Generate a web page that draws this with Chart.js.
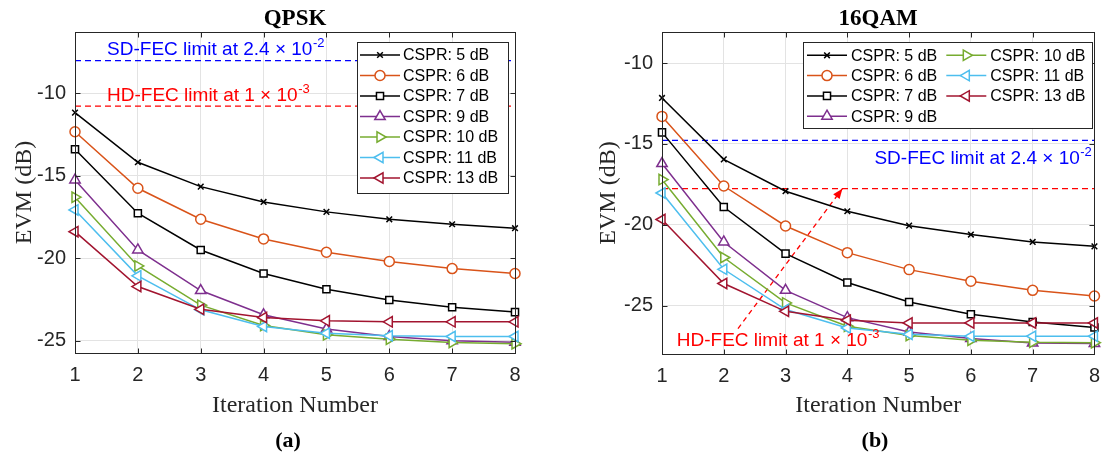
<!DOCTYPE html>
<html>
<head>
<meta charset="utf-8">
<script src="https://cdn.jsdelivr.net/npm/chart.js@4.4.1/dist/chart.umd.min.js"></script>
<style>
  body { margin: 0; background: #fff; }
  .panel { position: absolute; top: 0; width: 555px; height: 460px; }
</style>
</head>
<body>
<div class="panel" style="left:0"><canvas id="qpskChart" width="555" height="460"></canvas></div>
<div class="panel" style="left:555px"><canvas id="qamChart" width="555" height="460"></canvas></div>
<script>
// x axis: iteration number
const iterations = [1, 2, 3, 4, 5, 6, 7, 8];
const xTicks = [1, 2, 3, 4, 5, 6, 7, 8];
const yTicks = [-10, -15, -20, -25];

const csprLabels = ['CSPR: 5 dB', 'CSPR: 6 dB', 'CSPR: 7 dB', 'CSPR: 9 dB', 'CSPR: 10 dB', 'CSPR: 11 dB', 'CSPR: 13 dB'];

// QPSK EVM (dB)
const qpsk5  = [-11.17, -14.18, -15.66, -16.59, -17.19, -17.64, -17.94, -18.18];
const qpsk6  = [-12.33, -15.76, -17.64, -18.83, -19.64, -20.20, -20.63, -20.93];
const qpsk7  = [-13.39, -17.27, -19.50, -20.93, -21.88, -22.53, -22.97, -23.27];
const qpsk9  = [-15.25, -19.50, -21.96, -23.43, -24.30, -24.75, -25.00, -25.10];
const qpsk10 = [-16.30, -20.47, -22.85, -24.08, -24.65, -24.91, -25.11, -25.19];
const qpsk11 = [-17.07, -21.07, -23.13, -24.14, -24.55, -24.71, -24.75, -24.75];
const qpsk13 = [-18.39, -21.72, -23.10, -23.60, -23.80, -23.86, -23.86, -23.86];

// 16QAM EVM (dB)
const qam5  = [-12.16, -15.96, -17.93, -19.17, -20.06, -20.61, -21.07, -21.34];
const qam6  = [-13.30, -17.61, -20.08, -21.73, -22.78, -23.50, -24.06, -24.41];
const qam7  = [-14.29, -18.91, -21.79, -23.58, -24.78, -25.54, -26.02, -26.36];
const qam9  = [-16.22, -21.07, -24.06, -25.75, -26.64, -27.04, -27.32, -27.35];
const qam10 = [-17.21, -22.03, -24.84, -26.28, -26.86, -27.15, -27.27, -27.30];
const qam11 = [-18.04, -22.76, -25.25, -26.39, -26.78, -26.90, -26.90, -26.90];
const qam13 = [-19.68, -23.64, -25.36, -25.91, -26.08, -26.08, -26.08, -26.08];

// FEC thresholds (EVM in dB)
const qpskSdFec = -8.02;
const qpskHdFec = -10.77;
const qamSdFec = -14.78;
const qamHdFec = -17.77;

// dashed arrow pointing to the 16QAM HD-FEC line
const qamArrowX = [2.23, 3.92];
const qamArrowY = [-26.43, -17.77];

const SANS = '"Liberation Sans", Arial, sans-serif';
const SERIF = '"Liberation Serif", "Times New Roman", serif';

const csprColors = ['#000000', '#D95319', '#000000', '#7E2F8E', '#77AC30', '#4DBEEE', '#A2142F'];
const csprMarkers = [
    { style: 'crossRot', rot: 0, r: 4 },
    { style: 'circle', rot: 0, r: 5 },
    { style: 'rect', rot: 0, r: 5 },
    { style: 'triangle', rot: 0, r: 6 },
    { style: 'triangle', rot: 90, r: 6 },
    { style: 'triangle', rot: -90, r: 6 },
    { style: 'triangle', rot: -90, r: 6 },
];

function csprDatasets(series) {
    return series.map((values, i) => ({
        label: csprLabels[i],
        data: iterations.map((it, k) => ({ x: it, y: values[k] })),
        borderColor: csprColors[i],
        backgroundColor: '#ffffff',
        borderWidth: 1.5,
        pointStyle: csprMarkers[i].style,
        rotation: csprMarkers[i].rot,
        pointRadius: csprMarkers[i].r,
        pointBorderWidth: 1.5,
        clip: false,
        inLegend: true,
        order: 20 - i,
    }));
}

function limitLine(value, color) {
    return {
        data: [{ x: xTicks[0], y: value }, { x: xTicks[xTicks.length - 1], y: value }],
        borderColor: color,
        borderWidth: 1.3,
        borderDash: [6, 4],
        pointRadius: 0,
        order: 40,
    };
}

// MATLAB style box with inward ticks
const frame = {
    id: 'frame',
    afterDatasetsDraw(chart) {
        const { ctx, chartArea: a, scales } = chart;
        const L = Math.round(a.left) + 0.5, R = Math.round(a.right) + 0.5;
        const T = Math.round(a.top) + 0.5, B = Math.round(a.bottom) + 0.5;
        ctx.save();
        ctx.strokeStyle = '#262626';
        ctx.lineWidth = 1;
        ctx.strokeRect(L, T, R - L, B - T);
        ctx.beginPath();
        scales.x.ticks.forEach(t => {
            const px = Math.round(scales.x.getPixelForValue(t.value)) + 0.5;
            ctx.moveTo(px, B); ctx.lineTo(px, B - 5);
            ctx.moveTo(px, T); ctx.lineTo(px, T + 5);
        });
        scales.y.ticks.forEach(t => {
            const py = Math.round(scales.y.getPixelForValue(t.value)) + 0.5;
            ctx.moveTo(L, py); ctx.lineTo(L + 5, py);
            ctx.moveTo(R, py); ctx.lineTo(R - 5, py);
        });
        ctx.stroke();
        ctx.restore();
    }
};

// arrow head on the dataset flagged with arrow: true
const arrowHead = {
    id: 'arrowHead',
    afterDatasetsDraw(chart) {
        const idx = chart.data.datasets.findIndex(d => d.arrow);
        if (idx < 0) return;
        const pts = chart.getDatasetMeta(idx).data;
        const p0 = pts[0], p1 = pts[pts.length - 1];
        const ang = Math.atan2(p1.y - p0.y, p1.x - p0.x);
        const ctx = chart.ctx;
        ctx.save();
        ctx.translate(p1.x, p1.y);
        ctx.rotate(ang);
        ctx.fillStyle = '#ff0000';
        ctx.beginPath();
        ctx.moveTo(0, 0);
        ctx.lineTo(-10, -4);
        ctx.lineTo(-10, 4);
        ctx.closePath();
        ctx.fill();
        ctx.restore();
    }
};

// FEC limit labels, e.g. "SD-FEC limit at 2.4 x 10^-2"
const fecText = {
    id: 'fecText',
    afterDatasetsDraw(chart, args, opts) {
        const ctx = chart.ctx;
        const { x: sx, y: sy } = chart.scales;
        ctx.save();
        ctx.textBaseline = 'alphabetic';
        ctx.textAlign = 'left';
        (opts.items || []).forEach(it => {
            const main = '19px ' + SANS, small = '13px ' + SANS;
            ctx.font = main;
            const head = it.text + ' \u00d7 10';
            const wHead = ctx.measureText(head).width;
            ctx.font = small;
            const wExp = ctx.measureText(it.exp).width;
            const px = sx.getPixelForValue(it.x);
            const py = sy.getPixelForValue(it.y);
            const x0 = it.align === 'right' ? px - wHead - wExp : px;
            ctx.fillStyle = it.color;
            ctx.font = main;
            ctx.fillText(head, x0, py);
            ctx.font = small;
            ctx.fillText(it.exp, x0 + wHead + 0.5, py - 8);
        });
        ctx.restore();
    }
};

// legend box drawn inside the axes
const csprLegend = {
    id: 'csprLegend',
    afterDraw(chart, args, o) {
        const ctx = chart.ctx;
        ctx.save();
        ctx.fillStyle = '#ffffff';
        ctx.fillRect(o.x, o.y, o.w, o.h);
        ctx.strokeStyle = '#262626';
        ctx.lineWidth = 1;
        ctx.strokeRect(Math.round(o.x) + 0.5, Math.round(o.y) + 0.5, Math.round(o.w), Math.round(o.h));
        ctx.font = '16px ' + SANS;
        ctx.textBaseline = 'middle';
        ctx.textAlign = 'left';
        chart.data.datasets.filter(d => d.inLegend).forEach((ds, i) => {
            const col = Math.floor(i / o.rows), row = i % o.rows;
            const lx = o.x + o.padX + col * o.colW;
            const cy = o.y + o.firstRow + row * o.rowH;
            ctx.strokeStyle = ds.borderColor;
            ctx.lineWidth = ds.borderWidth;
            ctx.beginPath();
            ctx.moveTo(lx, cy);
            ctx.lineTo(lx + o.lineLen, cy);
            ctx.stroke();
            ctx.fillStyle = '#ffffff';
            Chart.helpers.drawPoint(ctx, {
                pointStyle: ds.pointStyle, rotation: ds.rotation,
                radius: ds.pointRadius, borderWidth: ds.pointBorderWidth
            }, lx + o.lineLen / 2, cy);
            ctx.fillStyle = '#000000';
            ctx.fillText(ds.label, lx + o.lineLen + o.textGap, cy + 1);
        });
        ctx.restore();
    }
};

// title, axis titles and panel caption
const panelText = {
    id: 'panelText',
    afterDraw(chart, args, o) {
        const { ctx, chartArea: a } = chart;
        const cx = (a.left + a.right) / 2;
        ctx.save();
        ctx.fillStyle = '#000000';
        ctx.textAlign = 'center';
        ctx.textBaseline = 'alphabetic';
        ctx.font = 'bold 23px ' + SERIF;
        ctx.fillText(o.title, cx, 25);
        ctx.font = '24px ' + SERIF;
        ctx.fillStyle = '#262626';
        ctx.fillText('Iteration Number', cx, 411.5);
        ctx.save();
        ctx.translate(o.yTitleX, (a.top + a.bottom) / 2);
        ctx.rotate(-Math.PI / 2);
        ctx.fillText('EVM (dB)', 0, 0);
        ctx.restore();
        ctx.fillStyle = '#000000';
        ctx.font = 'bold 22px ' + SERIF;
        ctx.fillText(o.caption, o.captionX, 447);
        ctx.restore();
    }
};

function makeChart(id, datasets, yMin, yMax, axisWidth, axisHeight, padRight, plugins) {
    const ctx = document.getElementById(id).getContext('2d');
    return new Chart(ctx, {
        type: 'line',
        data: { datasets: datasets },
        options: {
            responsive: false,
            animation: false,
            devicePixelRatio: 1,
            layout: { padding: { top: 32, right: padRight, bottom: 0, left: 0 } },
            plugins: Object.assign({
                legend: { display: false },
                title: { display: false },
                tooltip: { enabled: false },
            }, plugins),
            scales: {
                x: {
                    type: 'linear',
                    min: xTicks[0],
                    max: xTicks[xTicks.length - 1],
                    afterBuildTicks: axis => { axis.ticks = xTicks.map(v => ({ value: v })); },
                    afterFit: scale => { scale.height = axisHeight; },
                    grid: { color: '#e3e3e3', drawTicks: false },
                    border: { display: false },
                    ticks: { color: '#262626', font: { family: SANS, size: 20 }, padding: 10, maxRotation: 0, autoSkip: false },
                },
                y: {
                    type: 'linear',
                    min: yMin,
                    max: yMax,
                    afterBuildTicks: axis => { axis.ticks = yTicks.map(v => ({ value: v })); },
                    afterFit: scale => { scale.width = axisWidth; },
                    grid: { color: '#e3e3e3', drawTicks: false },
                    border: { display: false },
                    ticks: { color: '#262626', font: { family: SANS, size: 20 }, padding: 9 },
                },
            },
        },
        plugins: [frame, arrowHead, fecText, csprLegend, panelText],
    });
}

// (a) QPSK
const qpskSets = csprDatasets([qpsk5, qpsk6, qpsk7, qpsk9, qpsk10, qpsk11, qpsk13]);
qpskSets.push(limitLine(qpskSdFec, '#0000ff'), limitLine(qpskHdFec, '#ff0000'));
makeChart('qpskChart', qpskSets, -25.75, -6.28, 75, 107, 40, {
    panelText: { title: 'QPSK', caption: '(a)', captionX: 288, yTitleX: 31 },
    csprLegend: { x: 357, y: 42, w: 151, h: 151, rows: 7, colW: 0, padX: 3, firstRow: 13, rowH: 20.5, lineLen: 40, textGap: 3 },
    fecText: { items: [
        { x: 1.51, y: -7.68, text: 'SD-FEC limit at 2.4', exp: '-2', color: '#0000ff' },
        { x: 1.51, y: -10.45, text: 'HD-FEC limit at 1', exp: '-3', color: '#ff0000' },
    ] },
});

// (b) 16QAM
const qamSets = csprDatasets([qam5, qam6, qam7, qam9, qam10, qam11, qam13]);
qamSets.push(limitLine(qamSdFec, '#0000ff'), limitLine(qamHdFec, '#ff0000'));
qamSets.push({
    data: qamArrowX.map((x, k) => ({ x: x, y: qamArrowY[k] })),
    borderColor: '#ff0000',
    borderWidth: 1.3,
    borderDash: [5, 4],
    pointRadius: 0,
    arrow: true,
    order: 40,
});
makeChart('qamChart', qamSets, -28, -8.08, 107, 106, 7, {
    panelText: { title: '16QAM', caption: '(b)', captionX: 320, yTitleX: 60 },
    csprLegend: { x: 248, y: 42, w: 289, h: 86, rows: 4, colW: 139.3, padX: 4, firstRow: 13.3, rowH: 20.3, lineLen: 40, textGap: 4 },
    fecText: { items: [
        { x: 7.95, y: -16.22, text: 'SD-FEC limit at 2.4', exp: '-2', color: '#0000ff', align: 'right' },
        { x: 1.24, y: -27.52, text: 'HD-FEC limit at 1', exp: '-3', color: '#ff0000' },
    ] },
});
</script>
</body>
</html>
